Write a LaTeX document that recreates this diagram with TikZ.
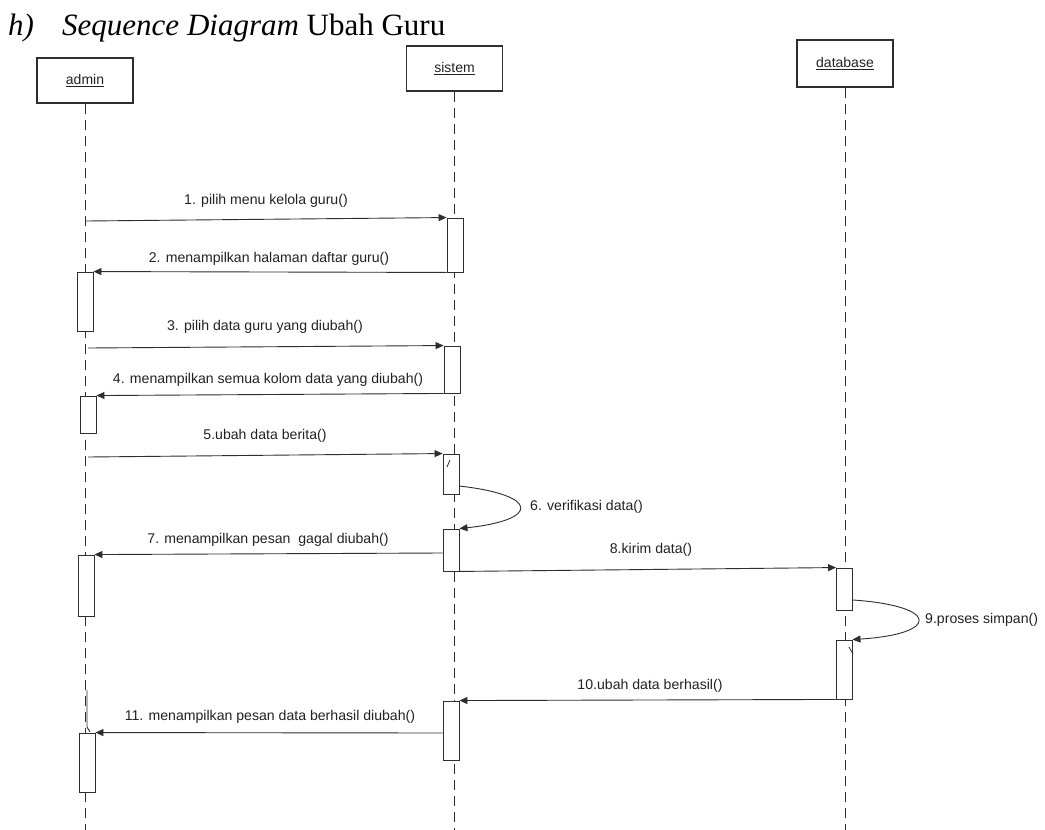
\documentclass[tikz,border=0pt]{standalone}
\usepackage{fontspec}
\setmainfont{Liberation Serif}
\setsansfont{Liberation Sans}
\usetikzlibrary{arrows.meta}
\definecolor{ln}{HTML}{2E2E2E}
\definecolor{tx}{HTML}{222222}
\begin{document}
\begin{tikzpicture}[x=1pt,y=-1pt,
 head/.style={draw=ln, line width=1.1pt, fill=white, minimum width=96pt, font=\sffamily\fontsize{14}{16}\selectfont, text=tx, inner sep=0pt},
 act/.style={draw=ln, line width=0.9pt, fill=white, minimum width=16pt, inner sep=0pt},
 life/.style={draw=ln, line width=0.9pt, dash pattern=on 10pt off 6pt},
 msg/.style={draw=ln, line width=0.9pt, -{Triangle[length=8pt,width=7pt]}},
 lbl/.style={font=\sffamily\fontsize{14.1}{16}\selectfont, text=tx, inner sep=0pt},
 ttlstyle/.style={font=\fontsize{31}{36}\selectfont, text=black, inner sep=0pt, anchor=base west},
]
\useasboundingbox (0,0) rectangle (1045,830);
\fill[white] (0,0) rectangle (1045,830);

% title
\node[ttlstyle] (ttlh) at (8,35) {\textit{h)}};
\node[ttlstyle] (ttl) at (62,35) {\textit{Sequence Diagram} Ubah Guru};

% heads
\node[head, minimum height=45pt] (admin) at (85,80.5) {\underline{admin}};
\node[head, minimum height=45pt] (sistem) at (454.5,68.5) {\underline{sistem}};
\node[head, minimum height=47pt] (database) at (845,63.5) {\underline{database}};

% lifelines
\draw[life] (admin.south) -- (admin.south |- 0,830);
\draw[life] (sistem.south) -- (sistem.south |- 0,830);
\draw[life] (database.south) -- (database.south |- 0,830);
\draw[draw=ln, line width=0.9pt] (87,690) -- (87,727) -- (90,732);

% activations
\node[act, minimum height=54pt] (s1) at (455,245) {};
\node[act, minimum height=59pt] (a1) at (85,301.5) {};
\node[act, minimum height=47pt] (s2) at (452,369.5) {};
\node[act, minimum height=37pt] (a2) at (88,414.5) {};
\node[act, minimum height=40pt] (s3) at (451,474) {};
\node[act, minimum height=42pt] (s4) at (451,550) {};
\node[act, minimum height=61pt] (a3) at (86,585.5) {};
\node[act, minimum height=42pt] (d1) at (844.5,589) {};
\node[act, minimum height=59pt] (d2) at (844,669.5) {};
\node[act, minimum height=59pt] (s5) at (451,730.5) {};
\node[act, minimum height=59pt] (a4) at (87,762.5) {};

\draw[draw=ln, line width=0.8pt] (447,467) -- (450,460);
\draw[draw=ln, line width=0.8pt] (849,647) -- (853,654);

% message start points
\coordinate (m1s) at (86,221);
\coordinate (m3s) at (88,348);
\coordinate (m5s) at (88,457);
\coordinate (m6s) at (459,486);
\coordinate (m9s) at (853,600);

% messages
\draw[msg] (m1s) -- (s1.north west);
\draw[msg] (s1.south west) -- (a1.north east);
\draw[msg] (m3s) -- (s2.north west);
\draw[msg] (s2.south west) -- (a2.north east);
\draw[msg] (m5s) -- (s3.north west);
\draw[msg] (m6s) .. controls (540,495) and (540,520) .. (s4.north east);
\draw[msg] (s4.west |- 0,553) -- (a3.north east);
\draw[msg] (s4.south east) -- (d1.north west);
\draw[msg] (m9s) .. controls (940,606) and (940,634) .. (d2.north east);
\draw[msg] (d2.south west) -- (s5.north east);
\draw[msg] (s5.west |- 0,733) -- (a4.north east);

% labels
\node[lbl] (l1) at (266,201) {1. pilih menu kelola guru()};
\node[lbl] (l2) at (269,259) {2. menampilkan halaman daftar guru()};
\node[lbl] (l3) at (265,327) {3. pilih data guru yang diubah()};
\node[lbl] (l4) at (268,380) {4. menampilkan semua kolom data yang diubah()};
\node[lbl] (l5) at (265,436) {5.ubah data berita()};
\node[lbl, anchor=west] (l6) at (530,507) {6. verifikasi data()};
\node[lbl] (l7) at (268,540) {7. menampilkan pesan\ \ gagal diubah()};
\node[lbl] (l8) at (651,550) {8.kirim data()};
\node[lbl, anchor=west] (l9) at (925,620) {9.proses simpan()};
\node[lbl] (l10) at (650,686) {10.ubah data berhasil()};
\node[lbl] (l11) at (270,717) {11. menampilkan pesan data berhasil diubah()};
\end{tikzpicture}
\end{document}
